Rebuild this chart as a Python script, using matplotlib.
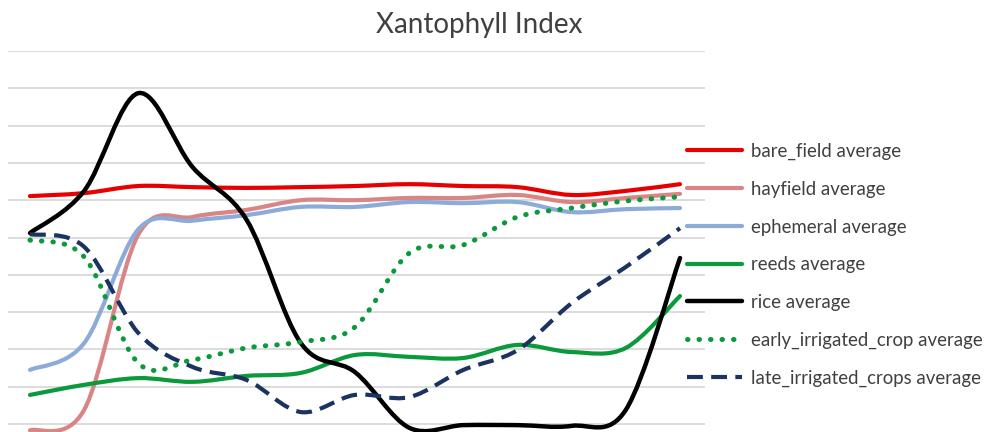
import numpy as np
import matplotlib
matplotlib.use('Agg')
import matplotlib.pyplot as plt
from matplotlib.path import Path
from matplotlib.patches import PathPatch
from matplotlib.lines import Line2D

plt.rcParams['font.family'] = ['Lato', 'DejaVu Sans']

title = "Xantophyll Index"

x = np.arange(13)

bare_field = [6.11, 6.19, 6.38, 6.35, 6.33, 6.35, 6.38, 6.43, 6.38, 6.35, 6.14, 6.25, 6.43]
hayfield = [-0.17, 0.38, 5.08, 5.55, 5.74, 6.00, 6.00, 6.06, 6.06, 6.14, 5.95, 6.06, 6.17]
ephemeral = [1.45, 2.17, 5.22, 5.45, 5.60, 5.82, 5.82, 5.95, 5.92, 5.95, 5.68, 5.76, 5.79]
reeds = [0.78, 1.05, 1.23, 1.13, 1.29, 1.37, 1.85, 1.80, 1.77, 2.12, 1.93, 2.04, 3.43]
rice = [5.12, 6.25, 8.87, 6.89, 5.47, 2.17, 1.39, -0.10, -0.03, -0.03, -0.05, 0.38, 4.45]
early_irrigated = [4.93, 4.48, 1.63, 1.72, 2.04, 2.20, 2.60, 4.58, 4.80, 5.55, 5.79, 5.98, 6.09]
late_irrigated = [5.09, 4.75, 2.44, 1.53, 1.18, 0.32, 0.78, 0.72, 1.45, 1.98, 3.24, 4.21, 5.25]

labels = ['bare_field average', 'hayfield average', 'ephemeral average',
          'reeds average', 'rice average', 'early_irrigated_crop average',
          'late_irrigated_crops average']
series = [bare_field, hayfield, ephemeral, reeds, rice, early_irrigated, late_irrigated]
colors = ['#e60000', '#d98585', '#8cabd9', '#0a9a3c', '#000000', '#0a9a3c', '#1b3361']
styles = ['-', '-', '-', '-', '-', (0, (0.1, 2.2)), (0, (3.8, 2.0))]
caps = ['round', 'round', 'round', 'round', 'round', 'round', 'butt']
widths = [3.0, 3.0, 3.0, 3.0, 3.2, 3.6, 3.0]


def smooth_path(xs, ys):
    # Excel-like smoothed line: cubic bezier through each point
    pts = np.column_stack([xs, ys]).astype(float)
    n = len(pts)
    verts = [pts[0]]
    codes = [Path.MOVETO]
    for i in range(n - 1):
        p0 = pts[i - 1] if i > 0 else pts[i]
        p1 = pts[i]
        p2 = pts[i + 1]
        p3 = pts[i + 2] if i + 2 < n else pts[i + 1]
        c1 = p1 + (p2 - p0) / 6.0
        c2 = p2 - (p3 - p1) / 6.0
        verts += [c1, c2, p2]
        codes += [Path.CURVE4] * 3
    return Path(verts, codes)


fig = plt.figure(figsize=(9.88, 4.32), dpi=100)
ax = fig.add_axes([8 / 988, 0, 697 / 988, (432 - 51) / 432])

for gy in range(0, 11):
    ax.axhline(gy, color='#d9d9d9', lw=1.3, zorder=0)

handles = []
for s, c, ls, cs, lw, lab in zip(series, colors, styles, caps, widths, labels):
    patch = PathPatch(smooth_path(x, s), fill=False, edgecolor=c, lw=lw,
                      linestyle=ls, capstyle=cs, joinstyle='round', zorder=2)
    ax.add_patch(patch)
    h = Line2D([], [], color=c, lw=lw, linestyle=ls, solid_capstyle=cs,
               dash_capstyle=cs, label=lab)
    handles.append(h)

ax.set_xlim(-22 / 54.17, 12 + 25 / 54.17)
ax.set_ylim(-8 / 37.3, 10)
for sp in ax.spines.values():
    sp.set_visible(False)
ax.set_xticks([])
ax.set_yticks([])

fig.text(0.485, 0.942, title, ha='center', va='center', fontsize=20, color='#404040')

fig.legend(handles=handles, loc='upper left', bbox_to_anchor=(687 / 988, 1 - 143 / 432),
           frameon=False, fontsize=13.4, handlelength=2.95, handletextpad=0.5,
           labelspacing=1.11, borderpad=0, borderaxespad=0, labelcolor='#404040')

fig.savefig('out.png', dpi=100)
